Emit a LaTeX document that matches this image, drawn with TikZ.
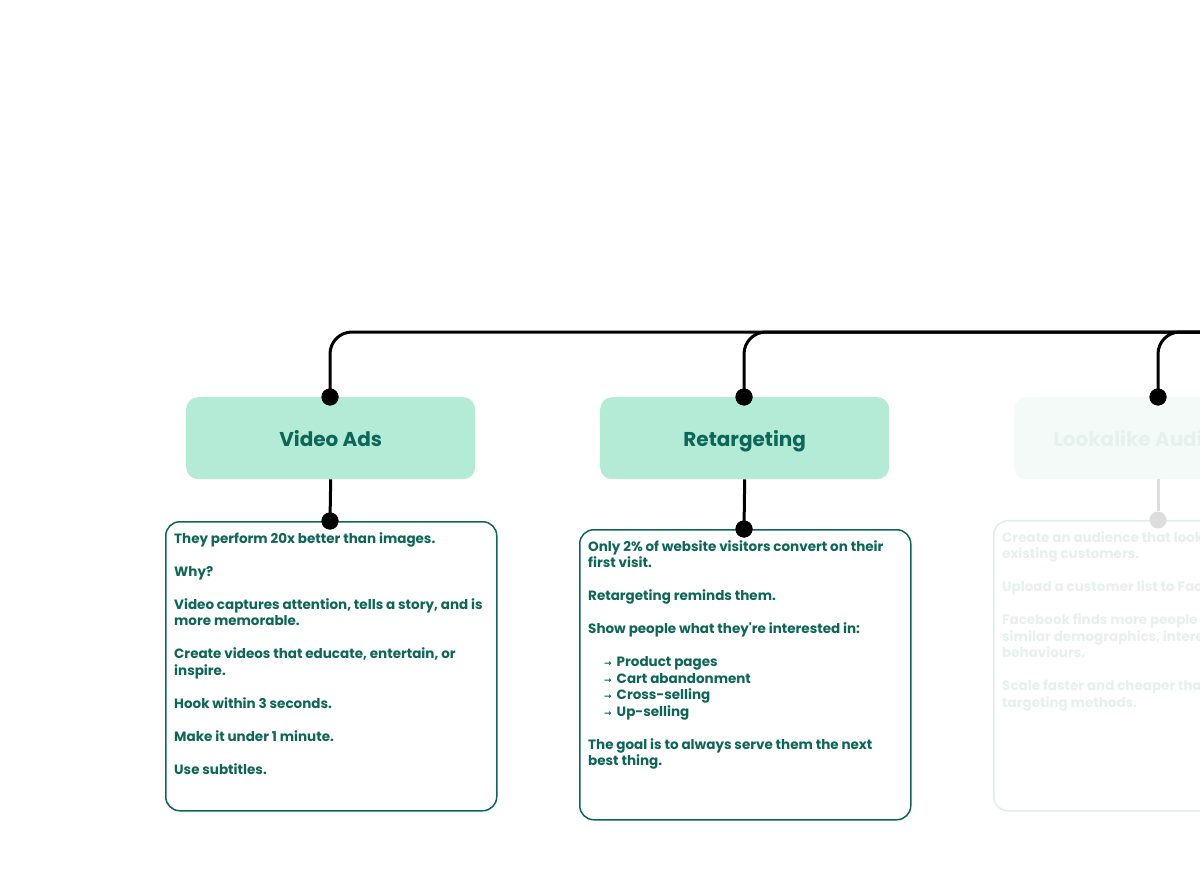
\documentclass[tikz,border=0pt]{standalone}
\usepackage{fontspec}
\setmainfont{Poppins}
\newfontfamily\arrowfont{DejaVu Sans}
\definecolor{teal}{HTML}{0D6657}
\definecolor{mint}{HTML}{B4EBD7}
\definecolor{fadefill}{HTML}{F4FAF8}
\definecolor{fadetext}{HTML}{E6F1EE}
\definecolor{fadeline}{HTML}{DDDDDD}
\definecolor{fadeborder}{HTML}{E3ECEA}
\tikzset{
  wire/.style={line width=3pt, draw=black, rounded corners=22pt},
  stem/.style={line width=3pt, draw=black},
  dot/.style={circle, fill=black, minimum size=17pt, inner sep=0pt},
  titlebox/.style={rounded corners=12pt, fill=mint, minimum width=289pt, minimum height=82pt, anchor=north west, text=teal, text height=17pt, text depth=1pt, font=\fontsize{20}{23}\selectfont\bfseries},
  bodybox/.style={rounded corners=14pt, draw=teal, line width=1.5pt, minimum width=331pt, minimum height=289pt, anchor=north west},
  bodytext/.style={anchor=north west, align=left, inner sep=0pt, text=teal, font=\fontsize{13.5}{16.5}\selectfont\bfseries},
}
\newcommand{\arr}{\hspace*{16pt}{\arrowfont\fontsize{9}{9}\selectfont →}\hspace{5pt}}
\begin{document}
\begin{tikzpicture}[x=1pt,y=-1pt]
\useasboundingbox (0,0) rectangle (1200,869);
\clip (0,0) rectangle (1200,869);
\fill[white] (0,0) rectangle (1200,869);

% faded third column
\node[titlebox, fill=fadefill, text=fadetext] (t3) at (1014,397) {Lookalike Audiences};
\node[bodybox, draw=fadeborder, minimum height=290pt] (b3) at (993,520) {};
\node[dot, fill=fadeline] (e3) at (1158,520) {};
\draw[stem, draw=fadeline] (t3.south -| e3) -- (e3);
\node[bodytext, text=fadetext] (x3) at (1002,531) {Create an audience that looks like your\\existing customers.\\[16.5pt]Upload a customer list to Facebook.\\[16.5pt]Facebook finds more people with\\similar demographics, interests and\\behaviours.\\[16.5pt]Scale faster and cheaper than other\\targeting methods.};

% title boxes
\node[titlebox] (t1) at (186,397) {Video Ads};
\node[titlebox] (t2) at (600,397) {Retargeting};

% body boxes
\node[bodybox] (b1) at (165,521) {};
\node[bodybox, minimum height=290pt] (b2) at (579,529) {};

% top dots
\node[dot] (d1) at (330,397) {};
\node[dot] (d2) at (744,397) {};
\node[dot] (d3) at (1158,397) {};
\coordinate (rend) at (1220,332);

\draw[wire] (d1.center) |- (rend);
\draw[wire] (d2.center) |- (rend);
\draw[wire] (d3.center) |- (rend);
\node[dot] at (d1) {};
\node[dot] at (d2) {};
\node[dot] at (d3) {};

% stems to body boxes
\node[dot] (e1) at (330,521) {};
\node[dot] (e2) at (744,529) {};
\draw[stem] (t1.south) -- (e1.center);
\draw[stem] (t2.south) -- (e2.center);
\node[dot] at (e1) {};
\node[dot] at (e2) {};

% body texts
\node[bodytext] (x1) at (174,532) {They perform 20x better than images.\\[16.5pt]Why?\\[16.5pt]Video captures attention, tells a story, and is\\more memorable.\\[16.5pt]Create videos that educate, entertain, or\\inspire.\\[16.5pt]Hook within 3 seconds.\\[16.5pt]Make it under 1 minute.\\[16.5pt]Use subtitles.};
\node[bodytext] (x2) at (588,540) {Only 2\% of website visitors convert on their\\first visit.\\[16.5pt]Retargeting reminds them.\\[16.5pt]Show people what they\textquotesingle re interested in:\\[16.5pt]\arr Product pages\\\arr Cart abandonment\\\arr Cross-selling\\\arr Up-selling\\[16.5pt]The goal is to always serve them the next\\best thing.};
\end{tikzpicture}
\end{document}
